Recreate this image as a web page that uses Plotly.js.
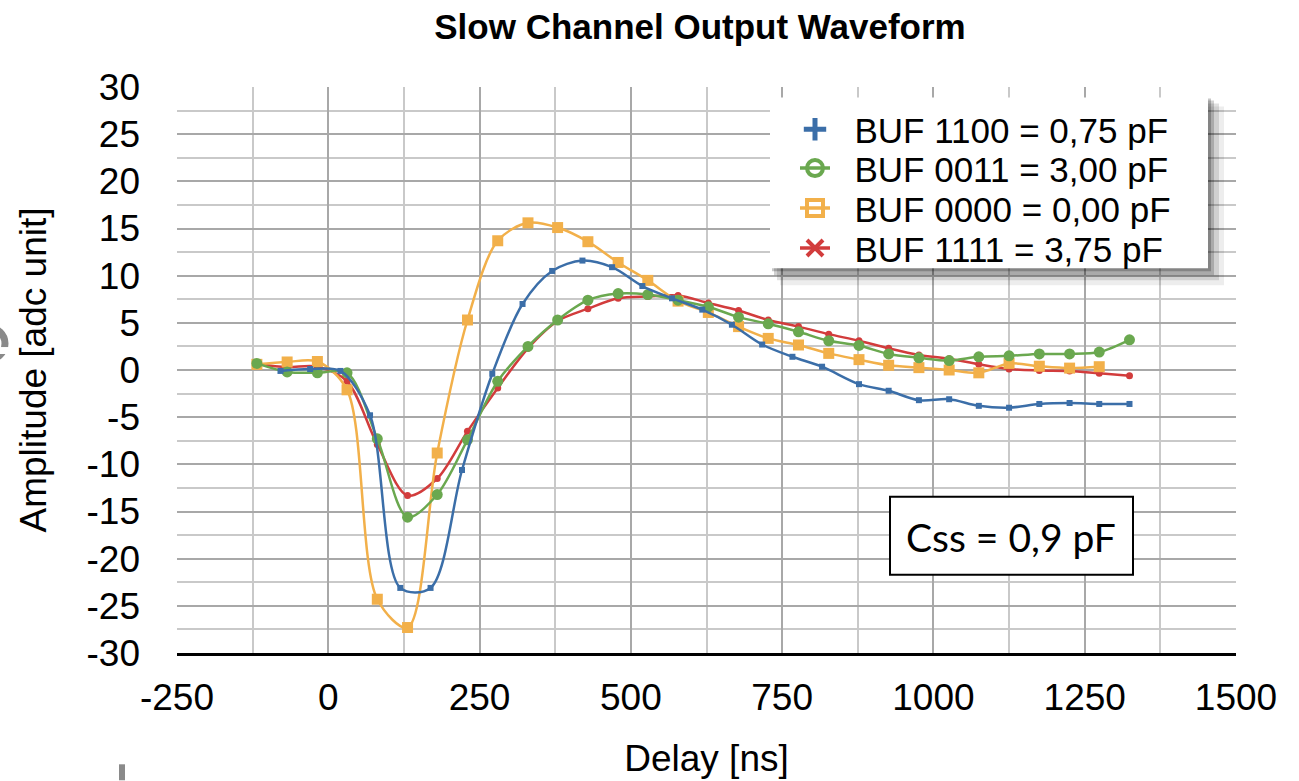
<!DOCTYPE html>
<html>
<head>
<meta charset="utf-8">
<script src="https://cdn.plot.ly/plotly-3.0.1.min.js"></script>
<style>
html,body{margin:0;padding:0;background:#fff;}
#chart{width:1299px;height:781px;}
</style>
</head>
<body>
<div id="chart"></div>
<script>
// ---- data ----
var seriesNames = ["BUF 1100 = 0,75 pF", "BUF 0011 = 3,00 pF", "BUF 0000 = 0,00 pF", "BUF 1111 = 3,75 pF"];

var xBlue = [-79,-30,20,69,119,169,221,271,321,370,420,469,519,568,618,667,717,767,816,877,926,976,1026,1075,1125,1175,1225,1274,1324];
var yBlue = [-0.1,0.1,-0.1,-4.8,-23.1,-23.1,-10.6,-0.4,7.0,10.5,11.6,10.9,8.9,7.6,6.4,4.8,2.7,1.4,0.35,-1.5,-2.2,-3.2,-3.1,-3.8,-4.0,-3.6,-3.5,-3.6,-3.6];

var xGreen = [-118,-68,-18,31,81,131,180,230,280,330,379,429,479,528,578,628,678,727,777,827,877,926,976,1026,1075,1125,1175,1225,1274,1324];
var yGreen = [0.7,-0.2,-0.3,-0.3,-7.3,-15.6,-13.2,-7.4,-1.2,2.5,5.3,7.4,8.1,8.0,7.4,6.7,5.6,4.9,4.05,3.1,2.6,1.7,1.3,1.0,1.4,1.5,1.7,1.7,1.9,3.2];

var xOrange = [-118,-68,-18,31,81,131,180,230,280,330,379,429,479,528,578,628,678,727,777,827,877,926,976,1026,1075,1125,1175,1225,1274];
var yOrange = [0.6,0.85,0.9,-2.1,-24.3,-27.3,-8.8,5.3,13.7,15.6,15.1,13.6,11.4,9.5,7.3,6.1,4.6,3.35,2.65,1.76,1.1,0.5,0.25,0.0,-0.3,0.7,0.4,0.2,0.35];

var xRed = [-118,-68,-18,31,81,131,180,230,280,330,379,429,479,528,578,628,678,727,777,827,877,926,976,1026,1075,1125,1175,1225,1274,1324];
var yRed = [0.6,0.3,0.35,-1.2,-7.9,-13.3,-11.5,-6.5,-1.9,2.3,5.2,6.5,7.6,7.8,7.9,7.1,6.3,5.3,4.6,3.8,3.1,2.3,1.6,1.2,0.6,0.1,-0.05,-0.1,-0.35,-0.6];

var xTickVals = [-250,0,250,500,750,1000,1250,1500];
var xTickText = ["-250","0","250","500","750","1000","1250","1500"];
var yTickVals = [-30,-25,-20,-15,-10,-5,0,5,10,15,20,25,30];
var yTickText = ["-30","-25","-20","-15","-10","-5","0","5","10","15","20","25","30"];

var chartTitle = "Slow Channel Output Waveform";
var xTitle = "Delay [ns]";
var yTitle = "Amplitude [adc unit]";
var noteText = "Css = 0,9 pF";

// ---- styling ----
var cBlue = "#3b6ea8", cGreen = "#6aa84f", cOrange = "#f2b04a", cRed = "#d23c3c";
var FONT = "Liberation Sans, Arial, Helvetica, sans-serif";
var GAP = "\u00a0\u00a0";

function dataTrace(x, y, color, symbol, size) {
  return {
    x: x, y: y, type: "scatter", mode: "lines+markers", showlegend: false,
    line: {color: color, width: 2.5, shape: "spline", smoothing: 0.9},
    marker: {color: color, symbol: symbol, size: size},
    hoverinfo: "x+y"
  };
}
function legendTrace(name, color, symbol, mode, legendId, size, lw) {
  return {
    x: [null], y: [null], type: "scatter", mode: mode, name: GAP + name, legend: legendId,
    line: {color: color, width: 3.5},
    marker: {color: color, symbol: symbol, size: size, line: {color: color, width: lw}}
  };
}

var traces = [
  dataTrace(xRed, yRed, cRed, "circle", 7),
  dataTrace(xOrange, yOrange, cOrange, "square", 11),
  dataTrace(xGreen, yGreen, cGreen, "circle", 11),
  dataTrace(xBlue, yBlue, cBlue, "square", 6),
  legendTrace(seriesNames[0], cBlue, "cross-thin-open", "markers", "legend", 22, 5),
  legendTrace(seriesNames[1], cGreen, "circle-open", "lines+markers", "legend2", 17, 4),
  legendTrace(seriesNames[2], cOrange, "square-open", "lines+markers", "legend3", 18, 4),
  legendTrace(seriesNames[3], cRed, "x-thin-open", "lines+markers", "legend4", 18, 4)
];

var PX = function(px){ return (px - 177) / 1059; };
var PY = function(py){ return (653.5 - py) / 567; };

var shapes = [
  // legend shadow
  {type:"rect", xref:"paper", yref:"paper", x0:PX(780), x1:PX(1224), y0:PY(285), y1:PY(106), fillcolor:"rgba(0,0,0,0.07)", line:{width:0}, layer:"above"},
  {type:"rect", xref:"paper", yref:"paper", x0:PX(777), x1:PX(1219), y0:PY(280), y1:PY(103), fillcolor:"rgba(0,0,0,0.12)", line:{width:0}, layer:"above"},
  {type:"rect", xref:"paper", yref:"paper", x0:PX(774), x1:PX(1214), y0:PY(275), y1:PY(100), fillcolor:"rgba(0,0,0,0.18)", line:{width:0}, layer:"above"},
  {type:"rect", xref:"paper", yref:"paper", x0:PX(772), x1:PX(1211), y0:PY(271), y1:PY(98), fillcolor:"rgba(0,0,0,0.22)", line:{width:0}, layer:"above"},
  // legend box
  {type:"rect", xref:"paper", yref:"paper", x0:PX(770), x1:PX(1208), y0:PY(268), y1:PY(97), fillcolor:"#ffffff", line:{width:0}, layer:"above"},
  // note box
  {type:"rect", xref:"paper", yref:"paper", x0:PX(890), x1:PX(1133), y0:PY(575), y1:PY(497), fillcolor:"#ffffff", line:{color:"#000000", width:2}, layer:"above"},
  // slide artefacts at the left edge
  {type:"rect", xref:"paper", yref:"paper", x0:PX(119), x1:PX(125), y0:PY(781), y1:PY(765), fillcolor:"#8a8a8a", line:{width:0}, layer:"above"},
  {type:"circle", xref:"paper", yref:"paper", x0:PX(-30), x1:PX(5), y0:PY(360), y1:PY(327), fillcolor:"rgba(0,0,0,0)", line:{color:"#8a8a8a", width:7}, layer:"above"},
  {type:"rect", xref:"paper", yref:"paper", x0:PX(0), x1:PX(12), y0:PY(354), y1:PY(347), fillcolor:"#ffffff", line:{width:0}, layer:"above"}
];

var annotations = [
  {xref:"paper", yref:"paper", x:PX(1011), y:PY(537), text:noteText, showarrow:false,
   font:{family:"Lato, Noto Sans, sans-serif", size:39, color:"#000"}, xanchor:"center", yanchor:"middle"}
];

function legendBox(rowY) {
  return {
    x: PX(795), xanchor: "left", y: PY(rowY), yanchor: "middle",
    bgcolor: "rgba(0,0,0,0)", borderwidth: 0,
    font: {family: FONT, size: 35, color: "#000"},
    itemwidth: 30, tracegroupgap: 0
  };
}

var layout = {
  width: 1299, height: 781,
  margin: {l:177, r:63, t:86.5, b:127.5, pad:0},
  paper_bgcolor: "#ffffff", plot_bgcolor: "#ffffff",
  font: {family: FONT, size: 37, color: "#000"},
  title: {text: "<b>" + chartTitle + "</b>", font:{family:FONT, size:35, color:"#000"},
          xref:"paper", x: PX(700), xanchor:"center", yref:"container", y: 1 - 27/781, yanchor:"middle"},
  xaxis: {
    range: [-250, 1500], tickmode:"array", tickvals: xTickVals, ticktext: xTickText,
    showgrid: true, gridcolor: "#a8a8a8", gridwidth: 2,
    minor: {dtick: 125, tick0: -250, showgrid: true, gridcolor: "#c9c9c9", gridwidth: 2},
    showline: true, linecolor: "#000000", linewidth: 2.5, zeroline: false,
    ticks: "", ticklabelstandoff: 10, tickfont:{size:37},
    title: {text: xTitle, font:{size:37}, standoff: 28}
  },
  yaxis: {
    range: [-30, 30], tickmode:"array", tickvals: yTickVals, ticktext: yTickText,
    showgrid: true, gridcolor: "#a8a8a8", gridwidth: 2,
    minor: {dtick: 2.5, tick0: -30, showgrid: true, gridcolor: "#c9c9c9", gridwidth: 2},
    showline: false, zeroline: false,
    ticks: "", ticklabelstandoff: 36, tickfont:{size:37},
    title: {text: yTitle, font:{size:37}, standoff: 28}
  },
  legend: legendBox(129),
  legend2: legendBox(168),
  legend3: legendBox(208),
  legend4: legendBox(248),
  shapes: shapes,
  annotations: annotations,
  showlegend: true
};

Plotly.newPlot("chart", traces, layout, {displayModeBar: false, staticPlot: true});
</script>
</body>
</html>
